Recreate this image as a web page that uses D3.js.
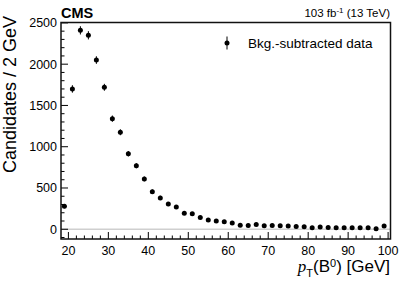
<!DOCTYPE html>
<html>
<head>
<meta charset="utf-8">
<script src="https://cdn.jsdelivr.net/npm/d3@7"></script>
<style>
  body { margin: 0; background: #fff; }
  text { font-family: "Liberation Sans", Arial, sans-serif; fill: #000; }
</style>
</head>
<body>
<div id="chart-area"></div>
<script>
// canvas and chart sizes
const svgWidth = 407,
      svgHeight = 292;

const margin = {left: 61, top: 22.5, right: 16.5, bottom: 53};

const chartWidth = svgWidth - margin.left - margin.right,
      chartHeight = svgHeight - margin.top - margin.bottom;

// data: bin centres (GeV), bkg-subtracted candidates and their errors
const ptCenters = [19, 21, 23, 25, 27, 29, 31, 33, 35, 37, 39, 41, 43, 45, 47, 49, 51, 53, 55, 57,
                   59, 61, 63, 65, 67, 69, 71, 73, 75, 77, 79, 81, 83, 85, 87, 89, 91, 93, 95, 97, 99];
const candidates = [280, 1700, 2410, 2350, 2050, 1720, 1340, 1175, 915, 770, 610, 455, 380, 305, 270, 195, 188, 143, 111, 99,
                    90, 75, 48, 46, 58, 42, 46, 42, 38, 34, 30, 18, 26, 22, 18, 18, 18, 18, 18, 6, 40];
const candErrors = [25, 45, 50, 50, 46, 42, 38, 36, 33, 31, 29, 27, 26, 24, 23, 21, 20, 19, 18, 17,
                    16, 15, 14, 14, 14, 13, 13, 13, 12, 12, 12, 11, 11, 11, 11, 10, 10, 10, 10, 10, 10];

const xTicks = [20, 30, 40, 50, 60, 70, 80, 90, 100];
const yTicks = [0, 500, 1000, 1500, 2000, 2500];

const data = ptCenters.map(function(d, i){
    return {pt: d, n: candidates[i], err: candErrors[i]};
});

// svg for chart
var svg = d3.select("#chart-area")
    .append("svg")
    .attr("width", svgWidth)
    .attr("height", svgHeight);

var g = svg.append("g")
    .attr("transform", "translate(" + margin.left + "," + margin.top + ")");

// x & y scales
var xScale = d3.scaleLinear()
    .domain([18.15, 100.6])
    .range([0, chartWidth]);
var yScale = d3.scaleLinear()
    .domain([-118, 2505])
    .range([chartHeight, 0]);

// zero line
g.append("line")
    .attr("x1", 0)
    .attr("x2", chartWidth)
    .attr("y1", yScale(0))
    .attr("y2", yScale(0))
    .attr("stroke", "#cfcfcf")
    .attr("stroke-width", 1.5);

// minor + major ticks (ROOT style, pointing inwards)
var xMinor = d3.range(20, 101, 2);
g.selectAll(".xtick")
    .data(xMinor)
    .enter().append("line")
    .attr("x1", function(d){ return xScale(d); })
    .attr("x2", function(d){ return xScale(d); })
    .attr("y1", chartHeight)
    .attr("y2", function(d){ return chartHeight - (d % 10 === 0 ? 7 : 3.5); })
    .attr("stroke", "#000")
    .attr("stroke-width", 1);

var yMinor = d3.range(-100, 2501, 100);
g.selectAll(".ytick")
    .data(yMinor)
    .enter().append("line")
    .attr("y1", function(d){ return yScale(d); })
    .attr("y2", function(d){ return yScale(d); })
    .attr("x1", 0)
    .attr("x2", function(d){ return d % 500 === 0 ? 7 : 3.5; })
    .attr("stroke", "#000")
    .attr("stroke-width", 1);

// tick labels
g.selectAll(".xlabel")
    .data(xTicks)
    .enter().append("text")
    .attr("x", function(d){ return xScale(d); })
    .attr("y", chartHeight + 16)
    .attr("text-anchor", "middle")
    .attr("font-size", "12.5px")
    .text(function(d){ return d; });

g.selectAll(".ylabel")
    .data(yTicks)
    .enter().append("text")
    .attr("x", -4)
    .attr("y", function(d){ return yScale(d); })
    .attr("dy", "0.35em")
    .attr("text-anchor", "end")
    .attr("font-size", "12.5px")
    .text(function(d){ return d; });

// frame
g.append("rect")
    .attr("width", chartWidth)
    .attr("height", chartHeight)
    .attr("fill", "none")
    .attr("stroke", "#111")
    .attr("stroke-width", 1.5);

// error bars
g.selectAll(".err")
    .data(data)
    .enter().append("line")
    .attr("x1", function(d){ return xScale(d.pt); })
    .attr("x2", function(d){ return xScale(d.pt); })
    .attr("y1", function(d){ return yScale(d.n - d.err); })
    .attr("y2", function(d){ return yScale(d.n + d.err); })
    .attr("stroke", "#000")
    .attr("stroke-width", 1);

// markers
g.selectAll("circle")
    .data(data)
    .enter().append("circle")
    .attr("cx", function(d){ return xScale(d.pt); })
    .attr("cy", function(d){ return yScale(d.n); })
    .attr("r", 2.5)
    .attr("fill", "#000");

// CMS label + lumi
svg.append("text")
    .attr("x", 61)
    .attr("y", 17.5)
    .attr("font-size", "14.5px")
    .attr("font-weight", "bold")
    .text("CMS");

var lumi = svg.append("text")
    .attr("x", 390)
    .attr("y", 17)
    .attr("text-anchor", "end")
    .attr("font-size", "11.5px");
lumi.append("tspan").text("103 fb");
lumi.append("tspan").attr("dy", -4).attr("font-size", "8px").text("-1");
lumi.append("tspan").attr("dy", 4).text(" (13 TeV)");

// legend
var legend = svg.append("g")
    .attr("transform", "translate(227,43)");
legend.append("line")
    .attr("y1", -6.5)
    .attr("y2", 6.5)
    .attr("stroke", "#000")
    .attr("stroke-width", 1);
legend.append("circle")
    .attr("r", 2.5)
    .attr("fill", "#000");
legend.append("text")
    .attr("x", 21)
    .attr("y", 5)
    .attr("font-size", "13.5px")
    .text("Bkg.-subtracted data");

// axis titles
svg.append("text")
    .attr("transform", "translate(15.5," + (margin.top + 72) + ") rotate(-90)")
    .attr("text-anchor", "middle")
    .attr("font-size", "18px")
    .text("Candidates / 2 GeV");

var xTitle = svg.append("text")
    .attr("x", 390)
    .attr("y", 272)
    .attr("text-anchor", "end")
    .attr("font-size", "17px");
xTitle.append("tspan")
    .style("font-family", "'Liberation Serif', 'Times New Roman', serif")
    .style("font-style", "italic")
    .text("p");
xTitle.append("tspan").attr("dy", 5).attr("font-size", "11px").text("T");
xTitle.append("tspan").attr("dy", -5).text("(B");
xTitle.append("tspan").attr("dy", -5).attr("font-size", "11px").text("0");
xTitle.append("tspan").attr("dy", 5).text(") [GeV]");
</script>
</body>
</html>
